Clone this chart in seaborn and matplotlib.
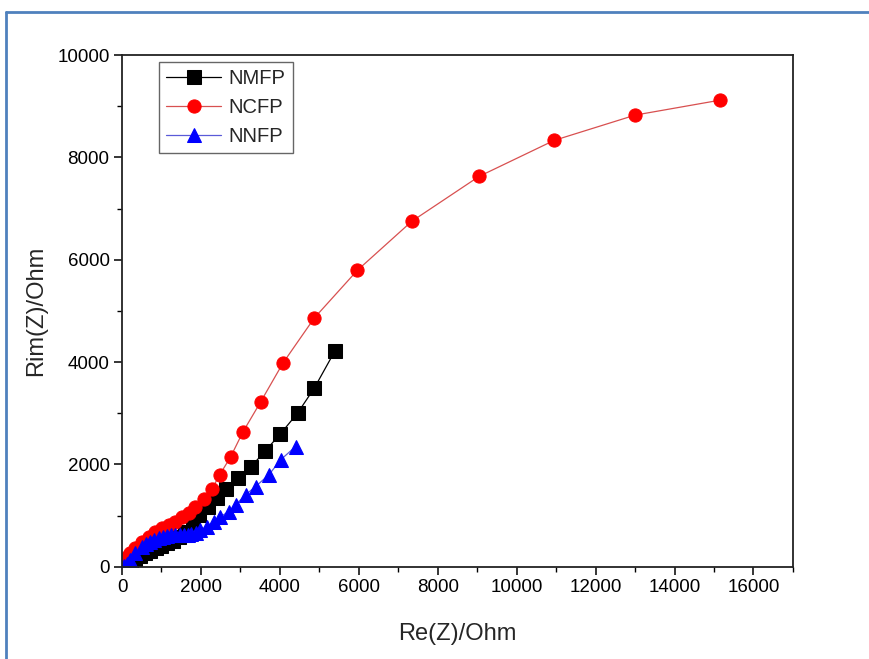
import matplotlib
matplotlib.use("Agg")
import matplotlib.pyplot as plt
from matplotlib.lines import Line2D
from matplotlib.ticker import MultipleLocator
import seaborn as sns
import pandas as pd

# ---- data ----
nmfp_x = [130, 230, 340, 460, 590, 720, 860, 1000, 1140, 1290, 1440, 1600, 1790,
          1962, 2173, 2411, 2647, 2934, 3274, 3629, 4005, 4449, 4873, 5401]
nmfp_y = [40, 90, 150, 210, 265, 315, 365, 410, 455, 510, 580, 680, 860,
          1012, 1162, 1338, 1520, 1730, 1957, 2264, 2587, 3002, 3491, 4225]

ncfp_x = [50, 120, 200, 338, 508, 675, 845, 1015, 1183, 1353, 1523, 1690, 1860,
          2071, 2284, 2478, 2749, 3061, 3510, 4076, 4873, 5964, 7343, 9043,
          10947, 13003, 15160]
ncfp_y = [100, 180, 260, 360, 489, 587, 685, 751, 816, 881, 967, 1045, 1162,
          1319, 1527, 1800, 2141, 2630, 3217, 3977, 4861, 5793, 6751, 7626,
          8331, 8826, 9119]

nnfp_x = [60, 130, 211, 338, 508, 600, 718, 820, 929, 1040, 1142, 1250, 1353,
          1460, 1563, 1660, 1760, 1870, 1987, 2157, 2325, 2495, 2706, 2876,
          3129, 3383, 3721, 4018, 4398]
nnfp_y = [10, 60, 131, 262, 391, 445, 489, 525, 555, 580, 600, 612, 620,
          622, 620, 628, 635, 665, 718, 783, 881, 978, 1076, 1207,
          1403, 1566, 1795, 2088, 2348]

series_names = ["NMFP", "NCFP", "NNFP"]
x_ticks = [0, 2000, 4000, 6000, 8000, 10000, 12000, 14000, 16000]
y_ticks = [0, 2000, 4000, 6000, 8000, 10000]

# ---- style ----
sns.set_style("ticks")
plt.rcParams["font.family"] = ["Liberation Sans", "DejaVu Sans"]

fig = plt.figure(figsize=(8.69, 6.59), dpi=100)
ax = fig.add_axes([0.1404, 0.1401, 0.7721, 0.7764])

styles = [
    (nmfp_x, nmfp_y, "s", "black", "black"),
    (ncfp_x, ncfp_y, "o", "#ff0000", "#d85050"),
    (nnfp_x, nnfp_y, "^", "#0000ff", "#5a5ad8"),
]
for name, (xs, ys, mk, mc, lc) in zip(series_names, styles):
    df = pd.DataFrame({"x": xs, "y": ys})
    sns.lineplot(data=df, x="x", y="y", ax=ax, sort=False, color=lc,
                 linewidth=0.9, marker=mk, markersize=9.5 if mk != "^" else 10.5,
                 markerfacecolor=mc, markeredgecolor=mc, label=name)

ax.set_xlim(0, 17000)
ax.set_ylim(0, 10000)
ax.set_xticks(x_ticks)
ax.set_yticks(y_ticks)
ax.set_xticklabels([str(v) for v in x_ticks])
ax.set_yticklabels([str(v) for v in y_ticks])
ax.xaxis.set_minor_locator(MultipleLocator(1000))
ax.yaxis.set_minor_locator(MultipleLocator(1000))
ax.tick_params(axis="both", which="major", direction="out", length=6, width=1.1,
               labelsize=13.5, color="black", labelcolor="black", pad=3)
ax.tick_params(axis="both", which="minor", direction="out", length=3.5, width=1.0,
               color="black")
ax.tick_params(top=False, right=False, which="both")

for sp in ax.spines.values():
    sp.set_visible(True)
    sp.set_linewidth(1.3)
    sp.set_color("#222222")

ax.set_xlabel("Re(Z)/Ohm", fontsize=17, labelpad=19)
ax.set_ylabel("Rim(Z)/Ohm", fontsize=17, labelpad=7)

leg = ax.legend(loc="upper left", bbox_to_anchor=(0.0556, 0.987), borderaxespad=0,
                fontsize=14.5, frameon=True, fancybox=False, framealpha=1,
                edgecolor="#666666", handlelength=2.7, labelspacing=0.5,
                borderpad=0.35, handletextpad=0.4)
leg.get_frame().set_linewidth(1.0)

# light-blue outer frame (left and top edges)
fig.add_artist(Line2D([6 / 869, 6 / 869], [0, 1 - 12 / 659], color="#4f81bd",
                      linewidth=2, transform=fig.transFigure))
fig.add_artist(Line2D([6 / 869, 1], [1 - 12 / 659, 1 - 12 / 659], color="#4f81bd",
                      linewidth=2, transform=fig.transFigure))

fig.savefig("out.png", dpi=100, facecolor="white")
